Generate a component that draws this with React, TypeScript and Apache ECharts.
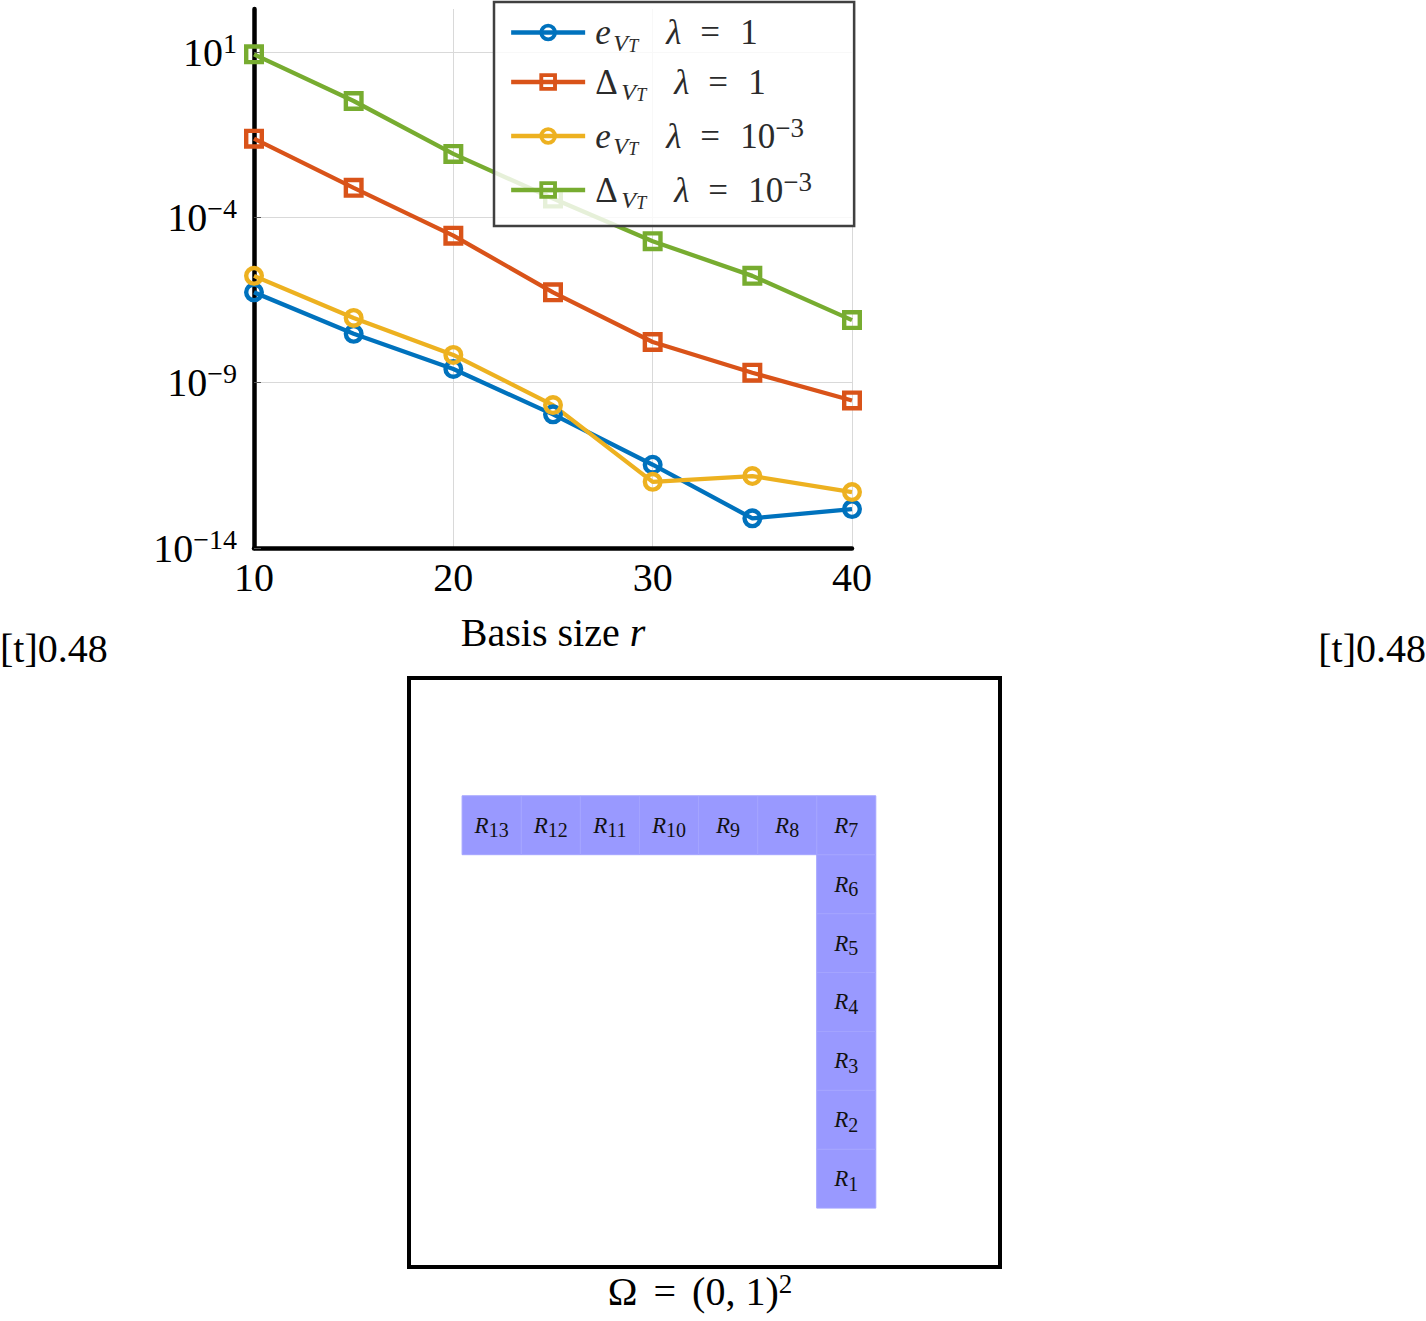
import React, { useEffect, useRef } from 'react';
import * as echarts from 'echarts';

// ---------- data ----------
const basisSizes = [10, 15, 20, 25, 30, 35, 40];
const eVtLambda1 = [5.4e-7, 3.0e-8, 2.6e-9, 1.1e-10, 3.3e-12, 7.9e-14, 1.5e-13];
const deltaVtLambda1 = [2.4e-2, 7.8e-4, 2.8e-5, 5.4e-7, 1.7e-8, 2.0e-9, 2.9e-10];
const eVtLambda1e3 = [1.7e-6, 9.1e-8, 6.9e-9, 2.1e-10, 1.0e-12, 1.5e-12, 4.9e-13];
const deltaVtLambda1e3 = [8.5, 0.33, 8.3e-3, 3.7e-4, 1.9e-5, 1.7e-6, 7.8e-8];

const seriesNames = ['e λ=1', 'Δ λ=1', 'e λ=1e-3', 'Δ λ=1e-3'];
const legendTexts = [
  '{e|e}{v|V}{t|T}{l|λ}{q|=}{m|1}',
  '{D|Δ}{v|V}{t|T}{l|λ}{q|=}{m|1}',
  '{e|e}{v|V}{t|T}{l|λ}{q|=}{m|10}{p|−3}',
  '{D|Δ}{v|V}{t|T}{l|λ}{q|=}{m|10}{p|−3}',
];
const seriesColors = ['#0072BD', '#D95319', '#EDB120', '#77AC30'];
const RING = 'path://M10,0A10,10,0,1,1,10,20A10,10,0,1,1,10,0ZM10,4.4A5.6,5.6,0,1,0,10,15.6A5.6,5.6,0,1,0,10,4.4Z';
const FRAME = 'path://M0,0H20V20H0ZM4.4,4.4V15.6H15.6V4.4Z';
const seriesSymbols = [RING, FRAME, RING, FRAME];
const seriesValues = [eVtLambda1, deltaVtLambda1, eVtLambda1e3, deltaVtLambda1e3];

const xTickMin = 10;
const xTickMax = 40;
const xTickStep = 10;
const yMin = 1e-14;
const yMax = 200;
const yDecadeStep = 5;

// subdomains R1..R13 in Ω = (0,1)^2 (lower-left corners)
const cellLabels = ['1', '2', '3', '4', '5', '6', '7', '8', '9', '10', '11', '12', '13'];
const cellX = [0.7, 0.7, 0.7, 0.7, 0.7, 0.7, 0.7, 0.6, 0.5, 0.4, 0.3, 0.2, 0.1];
const cellY = [0.1, 0.2, 0.3, 0.4, 0.5, 0.6, 0.7, 0.7, 0.7, 0.7, 0.7, 0.7, 0.7];
const cellSize = 0.1;

const FONT = 'Liberation Serif';
const TXT = '#2b2b2b';

export default function App() {
  const ref = useRef<HTMLDivElement>(null);
  useEffect(() => {
    if (!ref.current) return;
    const chart = echarts.init(ref.current, undefined, { renderer: 'svg' });

    const lineSeries = seriesNames.map((name, k) => ({
      name,
      type: 'line',
      xAxisIndex: 0,
      yAxisIndex: 0,
      data: basisSizes.map((x, i) => [x, seriesValues[k][i]]),
      symbol: seriesSymbols[k],
      symbolSize: 20,
      symbolKeepAspect: true,
      clip: false,
      lineStyle: { color: seriesColors[k], width: 4.3 },
      itemStyle: { color: seriesColors[k] },
    }));

    const cellRich = {
      r: { fontFamily: FONT, fontStyle: 'italic', fontSize: 23, lineHeight: 30, fill: '#111', color: '#111' },
      s: { fontFamily: FONT, fontSize: 20, lineHeight: 20, verticalAlign: 'bottom', fill: '#111', color: '#111' },
    };

    const option: any = {
      animation: false,
      backgroundColor: '#ffffff',
      textStyle: { fontFamily: FONT },
      grid: [
        { left: 254, top: 9, width: 598, height: 539 },
        { left: 403, top: 678, width: 591, height: 589 },
      ],
      xAxis: [
        {
          type: 'value',
          gridIndex: 0,
          min: xTickMin,
          max: xTickMax,
          interval: xTickStep,
          axisLine: { show: true, onZero: false, lineStyle: { color: '#000', width: 4.5 } },
          axisTick: { show: false },
          axisLabel: { fontFamily: FONT, fontSize: 40, color: '#000', margin: 9 },
          splitLine: { show: true, lineStyle: { color: '#d9d9d9', width: 1 } },
          name: '{a|Basis size }{i|r}',
          nameLocation: 'middle',
          nameGap: 64,
          nameTextStyle: {
            fontFamily: FONT,
            fontSize: 40,
            rich: {
              a: { fontFamily: FONT, fontSize: 40, color: '#000' },
              i: { fontFamily: FONT, fontSize: 40, fontStyle: 'italic', color: '#000' },
            },
          },
        },
        { type: 'value', gridIndex: 1, min: 0, max: 1, show: false },
      ],
      yAxis: [
        {
          type: 'log',
          gridIndex: 0,
          logBase: 10,
          min: yMin,
          max: yMax,
          interval: yDecadeStep,
          axisLine: { show: true, onZero: false, lineStyle: { color: '#000', width: 4.5 } },
          axisTick: { show: true, inside: true, length: 7, lineStyle: { color: '#555', width: 1 } },
          axisLabel: {
            margin: 17,
            showMaxLabel: false,
            fontFamily: FONT,
            formatter: (v: number) => {
              const e = Math.round(Math.log10(v));
              const s = e < 0 ? '−' + String(-e) : String(e);
              return '{b|10}{s|' + s + '}';
            },
            rich: {
              b: { fontFamily: FONT, fontSize: 40, lineHeight: 46, color: '#000' },
              s: { fontFamily: FONT, fontSize: 28, lineHeight: 26, verticalAlign: 'top', color: '#000' },
            },
          },
          splitLine: { show: true, showMaxLine: false, lineStyle: { color: '#d9d9d9', width: 1 } },
        },
        { type: 'value', gridIndex: 1, min: 0, max: 1, show: false },
      ],
      legend: {
        orient: 'vertical',
        left: 494,
        top: 2,
        z: 10,
        data: seriesNames,
        formatter: (name: string) => legendTexts[seriesNames.indexOf(name)],
        itemWidth: 74,
        itemHeight: 22,
        itemGap: 10,
        padding: [13, 32, 14, 15],
        backgroundColor: 'rgba(255,255,255,0.82)',
        borderColor: '#404040',
        borderWidth: 2.5,
        borderRadius: 0,
        selectedMode: false,
        lineStyle: { width: 4.3 },
        textStyle: {
          fontFamily: FONT,
          fontSize: 35,
          color: TXT,
          rich: {
            e: { fontFamily: FONT, fontStyle: 'italic', fontSize: 35, lineHeight: 44, width: 18, padding: [0, 0, 0, 5], color: TXT },
            D: { fontFamily: FONT, fontSize: 35, lineHeight: 44, width: 26, padding: [0, 0, 0, 5], color: TXT },
            v: { fontFamily: FONT, fontStyle: 'italic', fontSize: 24, lineHeight: 30, width: 15, verticalAlign: 'bottom', color: TXT },
            t: { fontFamily: FONT, fontStyle: 'italic', fontSize: 18, lineHeight: 18, width: 20, verticalAlign: 'bottom', color: TXT },
            l: { fontFamily: FONT, fontStyle: 'italic', fontSize: 35, lineHeight: 44, width: 20, padding: [0, 0, 0, 18], color: TXT },
            q: { fontFamily: FONT, fontSize: 35, lineHeight: 44, width: 22, padding: [0, 18, 0, 14], color: TXT },
            m: { fontFamily: FONT, fontSize: 35, lineHeight: 44, color: TXT },
            p: { fontFamily: FONT, fontSize: 27, lineHeight: 23, width: 39, verticalAlign: 'top', color: TXT },
          },
        },
      },
      series: [
        ...lineSeries,
        {
          type: 'custom',
          name: 'subdomains',
          coordinateSystem: 'cartesian2d',
          xAxisIndex: 1,
          yAxisIndex: 1,
          data: cellLabels.map((_, i) => [cellX[i], cellY[i]]),
          renderItem: (params: any, api: any) => {
            const x0 = api.value(0);
            const y0 = api.value(1);
            const p0 = api.coord([x0, y0 + cellSize]);
            const p1 = api.coord([x0 + cellSize, y0]);
            return {
              type: 'rect',
              shape: { x: p0[0], y: p0[1], width: p1[0] - p0[0], height: p1[1] - p0[1] },
              style: { fill: '#9999ff', stroke: '#a4a4ff', lineWidth: 1 },
              textContent: {
                style: {
                  text: '{r|R}{s|' + cellLabels[params.dataIndex] + '}',
                  rich: cellRich,
                  fontFamily: FONT,
                  fill: '#111',
                },
              },
              textConfig: { position: 'inside' },
            };
          },
        },
      ],
      graphic: [
        {
          type: 'rect',
          shape: { x: 409, y: 678, width: 591, height: 589 },
          style: { fill: 'none', stroke: '#000', lineWidth: 4 },
          z: 10,
        },
        {
          type: 'text',
          x: 0,
          y: 648,
          style: {
            text: '{m|[t]0.48}',
            align: 'left',
            verticalAlign: 'middle',
            rich: { m: { fontFamily: FONT, fontSize: 40, lineHeight: 44, fill: '#000', color: '#000' } },
          },
        },
        {
          type: 'text',
          x: 1426,
          y: 648,
          style: {
            text: '{m|[t]0.48}',
            align: 'right',
            verticalAlign: 'middle',
            rich: { m: { fontFamily: FONT, fontSize: 40, lineHeight: 44, fill: '#000', color: '#000' } },
          },
        },
        {
          type: 'text',
          x: 700,
          y: 1291,
          style: {
            text: '{m|Ω}{q|=}{m|(0, 1)}{p|2}',
            align: 'center',
            verticalAlign: 'middle',
            rich: {
              m: { fontFamily: FONT, fontSize: 40, lineHeight: 42, fill: '#000', color: '#000' },
              q: { fontFamily: FONT, fontSize: 40, lineHeight: 42, padding: [0, 16, 0, 16], fill: '#000', color: '#000' },
              p: { fontFamily: FONT, fontSize: 27, lineHeight: 20, verticalAlign: 'top', fill: '#000', color: '#000' },
            },
          },
        },
      ],
    };

    chart.setOption(option);
    return () => chart.dispose();
  }, []);

  return (
    <div
      ref={ref}
      style={{ position: 'absolute', left: 0, top: 0, width: 1426, height: 1321, background: '#fff' }}
    />
  );
}
